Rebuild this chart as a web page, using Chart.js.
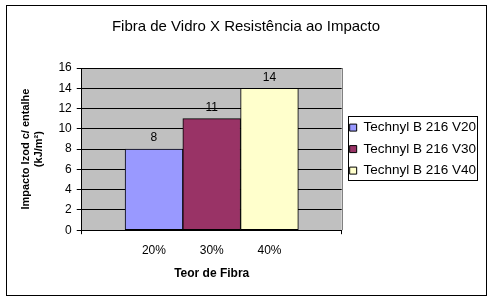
<!DOCTYPE html>
<html>
<head>
<meta charset="utf-8">
<script src="https://cdn.jsdelivr.net/npm/chart.js@4.4.1/dist/chart.umd.min.js"></script>
<style>
  html, body { margin: 0; padding: 0; background: #ffffff; }
  #wrap { width: 492px; height: 300px; }
</style>
</head>
<body>
<div id="wrap"><canvas id="impactChart" width="492" height="300"></canvas></div>
<script>
// Data
const categories = ['20%', '30%', '40%'];
const seriesNames = ['Technyl B 216 V20', 'Technyl B 216 V30', 'Technyl B 216 V40'];
const impactValues = [8, 11, 14];
const barColors = ['#9999FF', '#993366', '#FFFFCC'];
const yTicks = [0, 2, 4, 6, 8, 10, 12, 14, 16];

const FONT = 'Arial, "Liberation Sans", sans-serif';
const X_PAD = 1.25; // empty space either side of the bars, in bar widths

// Excel-like frame, plot background and value labels
const excelLook = {
  id: 'excelLook',
  beforeDraw(chart) {
    const { ctx, chartArea: a } = chart;
    ctx.save();
    ctx.fillStyle = '#ffffff';
    ctx.fillRect(0, 0, chart.width, chart.height);
    ctx.strokeStyle = '#000000';
    ctx.lineWidth = 1;
    ctx.strokeRect(6.5, 5.5, 480, 290);
    ctx.fillStyle = '#C0C0C0';
    ctx.fillRect(a.left, a.top, a.right - a.left, a.bottom - a.top);
    ctx.restore();
  },
  beforeDatasetsDraw(chart) {
    const { ctx, chartArea: a } = chart;
    ctx.save();
    ctx.strokeStyle = '#808080';
    ctx.beginPath();
    ctx.moveTo(Math.round(a.right) + 0.5, a.top);
    ctx.lineTo(Math.round(a.right) + 0.5, a.bottom);
    ctx.stroke();
    ctx.restore();
  },
  afterDatasetsDraw(chart) {
    const { ctx } = chart;
    ctx.save();
    ctx.fillStyle = '#000000';
    ctx.font = '12px ' + FONT;
    ctx.textAlign = 'center';
    ctx.textBaseline = 'bottom';
    chart.data.datasets.forEach((ds, i) => {
      chart.getDatasetMeta(i).data.forEach((bar, j) => {
        ctx.fillText(String(ds.data[j].y), bar.x, bar.y - 5);
      });
    });
    ctx.restore();
  },
  afterLayout(chart) {
    // center the legend on the plot area, like Excel does
    const lg = chart.legend;
    if (!lg) return;
    lg.top = chart.chartArea.top;
    lg.bottom = chart.chartArea.bottom;
    lg.height = lg.bottom - lg.top;
  },
  afterDraw(chart) {
    const boxes = chart.legend && chart.legend.legendHitBoxes;
    if (!boxes || !boxes.length) return;
    const { ctx } = chart;
    let l = Infinity, t = Infinity, r = -Infinity, b = -Infinity;
    boxes.forEach(h => {
      l = Math.min(l, h.left); t = Math.min(t, h.top);
      r = Math.max(r, h.left + h.width); b = Math.max(b, h.top + h.height);
    });
    ctx.save();
    ctx.strokeStyle = '#000000';
    ctx.lineWidth = 1;
    const x0 = Math.round(l - 2), y0 = Math.round(t - 4.5);
    ctx.strokeRect(x0 + 0.5, y0 + 0.5, Math.round(r + 1) - x0, Math.round(b + 3) - y0);
    ctx.restore();
  }
};

function initImpactChart() {
  const ctx = document.getElementById('impactChart');
  if (!ctx) return;

  const datasets = seriesNames.map((name, i) => ({
    label: name,
    data: [{ x: i + 1, y: impactValues[i] }],
    backgroundColor: barColors[i],
    borderColor: '#000000',
    borderWidth: 1,
    borderSkipped: false,
    grouped: false,
    barPercentage: 1,
    categoryPercentage: 1
  }));

  new Chart(ctx, {
    type: 'bar',
    data: { datasets: datasets },
    plugins: [excelLook],
    options: {
      responsive: false,
      animation: false,
      layout: {
        padding: { left: 6, right: 6, top: 9, bottom: 19 }
      },
      plugins: {
        title: {
          display: true,
          text: 'Fibra de Vidro X Resistência ao Impacto',
          color: '#000000',
          font: { family: FONT, size: 15, weight: 'normal' },
          padding: { top: 9, bottom: 32 }
        },
        legend: {
          position: 'right',
          align: 'center',
          maxWidth: 220,
          labels: {
            color: '#000000',
            font: { family: FONT, size: 13.5 },
            boxWidth: 7,
            boxHeight: 7,
            padding: 8
          }
        },
        tooltip: { enabled: false }
      },
      scales: {
        x: {
          type: 'linear',
          offset: false,
          min: 1 - X_PAD,
          max: categories.length + X_PAD,
          afterBuildTicks: (scale) => {
            const vals = [scale.min].concat(categories.map((c, i) => i + 1), [scale.max]);
            scale.ticks = vals.map(v => ({ value: v }));
          },
          grid: {
            offset: false,
            drawOnChartArea: false,
            drawTicks: true,
            tickLength: 4,
            tickColor: (c) => (c.tick && Number.isInteger(c.tick.value) ? 'rgba(0,0,0,0)' : '#000000')
          },
          border: { color: '#000000' },
          ticks: {
            color: '#000000',
            font: { family: FONT, size: 12 },
            padding: 9,
            maxRotation: 0,
            autoSkip: false,
            callback: (v) => (Number.isInteger(v) && categories[v - 1]) || ''
          },
          title: {
            display: true,
            text: 'Teor de Fibra',
            color: '#000000',
            font: { family: FONT, size: 12, weight: 'bold' },
            padding: { top: 0, bottom: 0 }
          }
        },
        y: {
          min: yTicks[0],
          max: yTicks[yTicks.length - 1],
          afterBuildTicks: (scale) => {
            scale.ticks = yTicks.map(v => ({ value: v }));
          },
          grid: {
            color: '#000000',
            tickLength: 5
          },
          border: { color: '#000000' },
          ticks: {
            color: '#000000',
            font: { family: FONT, size: 12 },
            padding: 5
          },
          title: {
            display: true,
            text: ['Impacto Izod c/ entalhe', '(kJ/m²)'],
            color: '#000000',
            font: { family: FONT, size: 11, weight: 'bold' },
            padding: { top: 13, bottom: 8 }
          }
        }
      }
    }
  });
}

document.addEventListener('DOMContentLoaded', () => {
  initImpactChart();
});
</script>
</body>
</html>
